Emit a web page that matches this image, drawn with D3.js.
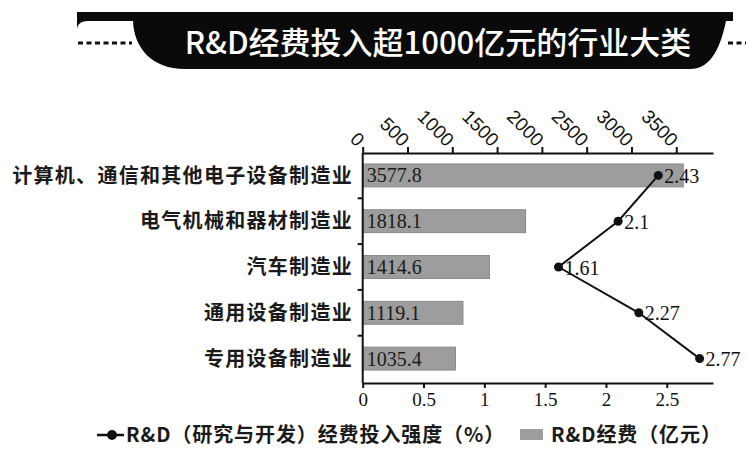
<!DOCTYPE html>
<html>
<head>
<meta charset="utf-8">
<script src="https://cdn.jsdelivr.net/npm/d3@7"></script>
<style>
  html, body { margin: 0; padding: 0; background: #fff; }
  svg { display: block; }
</style>
</head>
<body>
<svg id="chart" width="746" height="450"></svg>
<script>
// ---------- data ----------
const titleText = "R&D经费投入超1000亿元的行业大类";
const categories = [
  "计算机、通信和其他电子设备制造业",
  "电气机械和器材制造业",
  "汽车制造业",
  "通用设备制造业",
  "专用设备制造业"
];
const rdSpending = [3577.8, 1818.1, 1414.6, 1119.1, 1035.4];   // 亿元 (top axis)
const rdIntensity = [2.43, 2.1, 1.61, 2.27, 2.77];             // % (bottom axis)
const spendingLabels = ["3577.8", "1818.1", "1414.6", "1119.1", "1035.4"];
const intensityLabels = ["2.43", "2.1", "1.61", "2.27", "2.77"];
const topTicks = [0, 500, 1000, 1500, 2000, 2500, 3000, 3500];
const bottomTicks = [0, 0.5, 1, 1.5, 2, 2.5];
const bottomTickLabels = ["0", "0.5", "1", "1.5", "2", "2.5"];
const legendLabels = ["R&D（研究与开发）经费投入强度（%）", "R&D经费（亿元）"];

// ---------- setup ----------
const svg = d3.select("#chart");
const cjk = "'Noto Sans CJK SC', 'Noto Sans', sans-serif";
const serif = "'Liberation Serif', 'DejaVu Serif', serif";
const sans = "'Liberation Sans', Arial, sans-serif";

const xLeft = 362.7, xRight = 713;
const yTop = 153, yBottom = 383;

const xTop = d3.scaleLinear().domain([0, 3910]).range([xLeft, xRight]);
const xBottom = d3.scaleLinear().domain([0, 2.88]).range([xLeft, xRight]);
const y = d3.scaleBand().domain(categories).range([152.5, 381.5])
  .paddingInner(0.5).paddingOuter(0.25);

// ---------- title banner ----------
const banner = svg.append("g");
banner.append("path")
  .attr("d", "M77,12 H733 V21 H726 C721,45 712,69 690,69 L185,69 C152,69 134,48 133,21 H88 C80,21 77,25 77,30 Z")
  .attr("fill", "#0a0a0a");
banner.append("line").attr("x1", 78).attr("x2", 132).attr("y1", 43).attr("y2", 43)
  .attr("stroke", "#111").attr("stroke-width", 3).attr("stroke-dasharray", "5,3.5");
banner.append("line").attr("x1", 728).attr("x2", 746).attr("y1", 43).attr("y2", 43)
  .attr("stroke", "#111").attr("stroke-width", 3).attr("stroke-dasharray", "5,3.5");
banner.append("text")
  .attr("x", 438).attr("y", 54)
  .attr("text-anchor", "middle")
  .attr("fill", "#fff")
  .style("font-family", cjk)
  .style("font-size", "31px")
  .style("font-weight", 500)
  .text(titleText);

// ---------- bars ----------
svg.append("g").selectAll("rect")
  .data(categories)
  .join("rect")
  .attr("x", xTop(0))
  .attr("y", d => y(d))
  .attr("width", (d, i) => xTop(rdSpending[i]) - xTop(0))
  .attr("height", y.bandwidth())
  .attr("fill", "#9d9d9d")
  .attr("stroke", "#888")
  .attr("stroke-width", 1);

svg.append("g").selectAll("text")
  .data(categories)
  .join("text")
  .attr("x", xTop(0) + 4)
  .attr("y", d => y(d) + y.bandwidth() / 2)
  .attr("dy", "0.35em")
  .attr("fill", "#1a1a1a")
  .style("font-family", serif)
  .style("font-size", "20px")
  .text((d, i) => spendingLabels[i]);

// ---------- axes ----------
const topAxis = d3.axisTop(xTop).tickValues(topTicks).tickSize(6).tickSizeOuter(0).tickFormat(d3.format("d"));
const gTop = svg.append("g").attr("transform", `translate(0,${yTop})`).call(topAxis);
gTop.select(".domain").attr("stroke", "#111").attr("stroke-width", 2);
gTop.selectAll(".tick line").attr("stroke", "#111").attr("stroke-width", 2);
gTop.selectAll(".tick text")
  .attr("fill", "#111")
  .style("font-family", sans)
  .style("font-size", "19px")
  .attr("text-anchor", "end")
  .attr("transform", "translate(-2,-10) rotate(45)")
  .attr("x", 0).attr("y", 0).attr("dy", "0.35em");

const bottomAxis = d3.axisBottom(xBottom).tickValues(bottomTicks).tickSize(5).tickSizeOuter(0)
  .tickFormat((d, i) => bottomTickLabels[i]);
const gBottom = svg.append("g").attr("transform", `translate(0,${yBottom})`).call(bottomAxis);
gBottom.select(".domain").attr("stroke", "#111").attr("stroke-width", 2);
gBottom.selectAll(".tick line").attr("stroke", "#111").attr("stroke-width", 2);
gBottom.selectAll(".tick text")
  .attr("fill", "#111")
  .style("font-family", serif)
  .style("font-size", "19px")
  .attr("y", 10);

// left axis: domain line + ticks on band boundaries
const gLeft = svg.append("g");
gLeft.append("line")
  .attr("x1", xLeft).attr("x2", xLeft).attr("y1", yTop).attr("y2", yBottom)
  .attr("stroke", "#111").attr("stroke-width", 2);
const boundaries = categories.slice(1).map(c => y(c) - (y.step() - y.bandwidth()) / 2);
gLeft.selectAll("line.tk").data(boundaries).join("line")
  .attr("class", "tk")
  .attr("x1", xLeft - 5).attr("x2", xLeft)
  .attr("y1", d => d).attr("y2", d => d)
  .attr("stroke", "#111").attr("stroke-width", 2);
gLeft.selectAll("text").data(categories).join("text")
  .attr("x", 353)
  .attr("y", d => y(d) + y.bandwidth() / 2)
  .attr("dy", "0.36em")
  .attr("text-anchor", "end")
  .attr("fill", "#1a1a1a")
  .style("font-family", cjk)
  .style("font-size", "20px")
  .style("font-weight", 700)
  .style("letter-spacing", "1.3px")
  .text(d => d);

// ---------- line ----------
const line = d3.line()
  .x((d, i) => xBottom(d))
  .y((d, i) => y(categories[i]) + y.bandwidth() / 2);
svg.append("path")
  .datum(rdIntensity)
  .attr("d", line)
  .attr("fill", "none")
  .attr("stroke", "#111")
  .attr("stroke-width", 2);
svg.append("g").selectAll("circle")
  .data(rdIntensity)
  .join("circle")
  .attr("cx", d => xBottom(d))
  .attr("cy", (d, i) => y(categories[i]) + y.bandwidth() / 2)
  .attr("r", 4.5)
  .attr("fill", "#111");
svg.append("g").selectAll("text")
  .data(rdIntensity)
  .join("text")
  .attr("x", d => xBottom(d) + 6)
  .attr("y", (d, i) => y(categories[i]) + y.bandwidth() / 2)
  .attr("dy", "0.38em")
  .attr("fill", "#111")
  .style("font-family", serif)
  .style("font-size", "20px")
  .text((d, i) => intensityLabels[i]);

// ---------- legend ----------
const lg = svg.append("g");
lg.append("line").attr("x1", 97).attr("x2", 124).attr("y1", 435).attr("y2", 435)
  .attr("stroke", "#111").attr("stroke-width", 2.5);
lg.append("circle").attr("cx", 112).attr("cy", 435).attr("r", 5).attr("fill", "#111");
lg.append("text").attr("x", 126).attr("y", 442)
  .attr("fill", "#1a1a1a")
  .style("font-family", cjk)
  .style("font-size", "20px")
  .style("font-weight", 700)
  .style("letter-spacing", "0.9px")
  .text(legendLabels[0]);
lg.append("rect").attr("x", 520).attr("y", 429).attr("width", 23).attr("height", 11)
  .attr("fill", "#9d9d9d");
lg.append("text").attr("x", 551).attr("y", 442)
  .attr("fill", "#1a1a1a")
  .style("font-family", cjk)
  .style("font-size", "20px")
  .style("font-weight", 700)
  .style("letter-spacing", "0.9px")
  .text(legendLabels[1]);
</script>
</body>
</html>
